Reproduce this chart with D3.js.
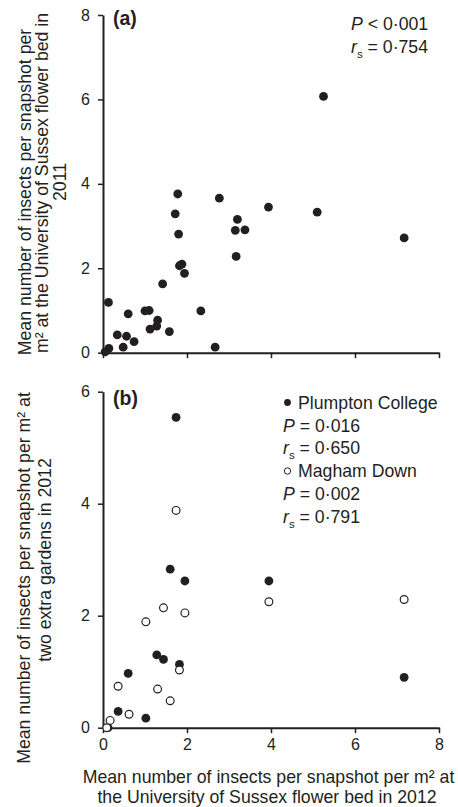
<!DOCTYPE html>
<html>
<head>
<meta charset="utf-8">
<script src="https://cdn.jsdelivr.net/npm/d3@7"></script>
<style>
html,body{margin:0;padding:0;background:#fff;}
svg{display:block;}
text{font-family:"Liberation Sans",Arial,sans-serif;fill:#231f20;}
</style>
</head>
<body>
<svg id="chart" width="458" height="807"></svg>
<script>
// ---- Data ----
const xTicks = [0, 2, 4, 6, 8];
const yTicksA = [0, 2, 4, 6, 8];
const yTicksB = [0, 2, 4, 6];

// Panel (a): University of Sussex 2012 (x) vs 2011 (y)
const aX = [0.05,0.14,0.13,0.34,0.48,0.56,0.60,0.74,1.00,1.10,1.12,1.30,1.28,1.42,1.58,1.72,1.78,1.80,1.82,1.88,1.94,2.33,2.67,2.77,3.15,3.20,3.17,3.38,3.94,5.10,7.17,5.25];
const aY = [0.02,0.10,1.19,0.42,0.13,0.39,0.92,0.26,0.99,1.00,0.56,0.77,0.63,1.63,0.50,3.29,3.76,2.81,2.06,2.10,1.88,0.99,0.13,3.66,2.90,3.16,2.28,2.91,3.45,3.33,2.72,6.07];

// Panel (b): Plumpton College (filled)
const plumptonX = [0.12,0.36,1.02,0.60,1.28,1.44,1.82,1.60,1.95,3.95,1.74,7.17];
const plumptonY = [0.00,0.29,0.17,0.97,1.30,1.22,1.13,2.83,2.62,2.62,5.54,0.90];
// Panel (b): Magham Down (open)
const maghamX = [0.09,0.17,0.62,0.36,1.30,1.60,1.82,1.02,1.44,1.95,3.95,7.17,1.74];
const maghamY = [0.00,0.13,0.24,0.74,0.69,0.48,1.03,1.89,2.14,2.05,2.25,2.29,3.88];

// ---- Layout ----
const svg = d3.select("#chart");
const x = d3.scaleLinear().domain([0, 8]).range([103, 439]);
const yA = d3.scaleLinear().domain([0, 8]).range([352.7, 15]);
const yB = d3.scaleLinear().domain([0, 6]).range([727.7, 391.7]);
const ink = "#231f20";
const FS = "17.7px";

function styleAxis(g){
  g.select(".domain").attr("stroke", ink).attr("stroke-width", 2);
  g.selectAll(".tick line").attr("stroke", ink).attr("stroke-width", 1.5);
  g.selectAll(".tick text").attr("font-size", "16px").attr("fill", "#231f20")
    .style("font-family", '"Liberation Sans",Arial,sans-serif');
}
const fmt = d3.format("d");

// Panel (a) axes
const gxa = svg.append("g").attr("transform", `translate(0,${yA(0)})`)
  .call(d3.axisBottom(x).tickValues(xTicks).tickSize(5.5).tickSizeOuter(0).tickFormat(""));
styleAxis(gxa);
const gya = svg.append("g").attr("transform", `translate(${x(0)},0)`)
  .call(d3.axisLeft(yA).tickValues(yTicksA).tickFormat(fmt).tickSize(5).tickSizeOuter(0).tickPadding(8));
styleAxis(gya);

// Panel (b) axes
const gxb = svg.append("g").attr("transform", `translate(0,${yB(0)})`)
  .call(d3.axisBottom(x).tickValues(xTicks).tickFormat(fmt).tickSize(5.5).tickSizeOuter(0).tickPadding(5));
styleAxis(gxb);
const gyb = svg.append("g").attr("transform", `translate(${x(0)},0)`)
  .call(d3.axisLeft(yB).tickValues(yTicksB).tickFormat(fmt).tickSize(5).tickSizeOuter(0).tickPadding(8));
styleAxis(gyb);

// Points (a)
svg.append("g").selectAll("circle").data(d3.range(aX.length)).join("circle")
  .attr("cx", i => x(aX[i])).attr("cy", i => yA(aY[i])).attr("r", 4.4)
  .attr("fill", ink);

// Points (b)
svg.append("g").selectAll("circle").data(d3.range(plumptonX.length)).join("circle")
  .attr("cx", i => x(plumptonX[i])).attr("cy", i => yB(plumptonY[i])).attr("r", 4.4)
  .attr("fill", ink);
svg.append("g").selectAll("circle").data(d3.range(maghamX.length)).join("circle")
  .attr("cx", i => x(maghamX[i])).attr("cy", i => yB(maghamY[i])).attr("r", 3.9)
  .attr("fill", "#fff").attr("stroke", ink).attr("stroke-width", 1.2);

// Panel labels
svg.append("text").attr("x", 113).attr("y", 25).attr("font-size", "19.5px").attr("font-weight", "bold").text("(a)");
svg.append("text").attr("x", 113).attr("y", 405).attr("font-size", "19.5px").attr("font-weight", "bold").text("(b)");

// Stats text helpers
function pLine(xp, yp, op, val){
  const t = svg.append("text").attr("x", xp).attr("y", yp).attr("font-size", FS);
  t.append("tspan").attr("font-style", "italic").text("P");
  t.append("tspan").text(` ${op} ${val}`);
}
function rLine(xp, yp, val){
  const t = svg.append("text").attr("x", xp).attr("y", yp).attr("font-size", FS);
  t.append("tspan").attr("font-style", "italic").text("r");
  t.append("tspan").attr("font-size", "11.5px").attr("dy", 5).text("s");
  t.append("tspan").attr("dy", -5).text(` = ${val}`);
}

pLine(351, 30, "<", "0·001");
rLine(351, 53, "0·754");

// Legend (b)
const lx = 283;
svg.append("circle").attr("cx", lx + 4.5).attr("cy", 402.5).attr("r", 3.4).attr("fill", ink);
svg.append("text").attr("x", lx + 15).attr("y", 408.5).attr("font-size", FS).text("Plumpton College");
pLine(lx, 431.5, "=", "0·016");
rLine(lx, 454, "0·650");
svg.append("circle").attr("cx", lx + 4.5).attr("cy", 471).attr("r", 3.2).attr("fill", "#fff").attr("stroke", ink).attr("stroke-width", 1);
svg.append("text").attr("x", lx + 15).attr("y", 477).attr("font-size", FS).text("Magham Down");
pLine(lx, 500, "=", "0·002");
rLine(lx, 522.5, "0·791");

// Y axis titles (rotated)
function vLine(cx, cy, str){
  svg.append("text").attr("transform", `translate(${cx},${cy}) rotate(-90)`)
    .attr("text-anchor", "middle").attr("font-size", FS).text(str);
}
vLine(31, 192, "Mean number of insects per snapshot per");
vLine(48, 183, "m² at the University of Sussex flower bed in");
vLine(66, 182, "2011");
vLine(30, 578, "Mean number of insects per snapshot per m² at");
vLine(50.5, 560, "two extra gardens in 2012");

// X axis title
svg.append("text").attr("x", 268.5).attr("y", 782.5).attr("text-anchor", "middle").attr("font-size", FS)
  .text("Mean number of insects per snapshot per m² at");
svg.append("text").attr("x", 267).attr("y", 803).attr("text-anchor", "middle").attr("font-size", FS)
  .text("the University of Sussex flower bed in 2012");
</script>
</body>
</html>
